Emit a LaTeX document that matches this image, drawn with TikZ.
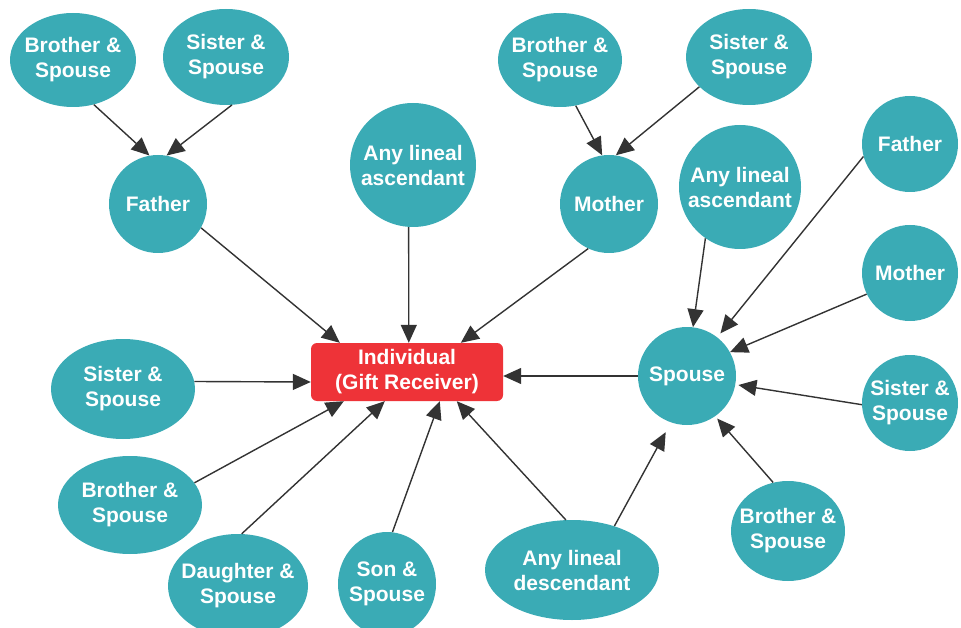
\documentclass[tikz,border=0pt]{standalone}
\usepackage{fontspec}
\setmainfont{Liberation Sans}
\usetikzlibrary{shapes.geometric,arrows.meta}
\definecolor{kinteal}{HTML}{3AABB5}
\definecolor{kinred}{HTML}{EE3338}
\definecolor{kinarrow}{HTML}{333333}
\begin{document}
\begin{tikzpicture}[x=1pt,y=-1pt,
        kin/.style={ellipse, fill=kinteal, text=white, font=\fontsize{21}{25}\selectfont\bfseries,
            align=center, inner xsep=-20pt, inner ysep=-4pt},
        gift/.style={rectangle, rounded corners=6pt, fill=kinred, text=white,
            font=\fontsize{21}{25}\selectfont\bfseries, align=center,
            minimum width=192pt, minimum height=58pt, inner sep=0pt},
        link/.style={-{Triangle[length=18pt,width=16pt]}, draw=kinarrow, line width=1.4pt}]
    \useasboundingbox (0,0) rectangle (961,628);
    % receiver
    \node[gift] (ind) at (407,372) {Individual\\(Gift Receiver)};
    % father's side
    \node[kin, minimum width=126pt, minimum height=94pt] (bsF) at (73,60) {Brother \&\\Spouse};
    \node[kin, minimum width=126pt, minimum height=96pt] (ssF) at (226,57) {Sister \&\\Spouse};
    \node[kin, minimum width=98pt, minimum height=98pt] (fatherL) at (158,204) {Father};
    \node[kin, minimum width=126pt, minimum height=124pt] (ascL) at (413,165) {Any lineal\\ascendant};
    % mother's side
    \node[kin, minimum width=124pt, minimum height=94pt] (bsM) at (560,60) {Brother \&\\Spouse};
    \node[kin, minimum width=126pt, minimum height=96pt] (ssM) at (749,57) {Sister \&\\Spouse};
    \node[kin, minimum width=98pt, minimum height=98pt] (motherL) at (609,204) {Mother};
    % spouse's side
    \node[kin, minimum width=98pt, minimum height=98pt] (spouse) at (687,376) {Spouse};
    \node[kin, minimum width=122pt, minimum height=124pt] (ascR) at (740,187) {Any lineal\\ascendant};
    \node[kin, minimum width=96pt, minimum height=96pt] (fatherR) at (910,144) {Father};
    \node[kin, minimum width=96pt, minimum height=96pt] (motherR) at (910,273) {Mother};
    \node[kin, minimum width=96pt, minimum height=96pt] (ssR) at (910,403) {Sister \&\\Spouse};
    \node[kin, minimum width=114pt, minimum height=100pt] (bsR) at (788,531) {Brother \&\\Spouse};
    % own family
    \node[kin, minimum width=144pt, minimum height=100pt] (ssL) at (123,389) {Sister \&\\Spouse};
    \node[kin, minimum width=144pt, minimum height=98pt] (bsL) at (130,505) {Brother \&\\Spouse};
    \node[kin, minimum width=140pt, minimum height=104pt] (daughter) at (238,586) {Daughter \&\\Spouse};
    \node[kin, minimum width=98pt, minimum height=104pt] (son) at (387,584) {Son \&\\Spouse};
    \node[kin, minimum width=174pt, minimum height=100pt] (desc) at (572,570) {Any lineal\\descendant};
    % arrows
    \draw[link] (bsF.295) -- (fatherL.100);
    \draw[link] (ssF.277) -- (fatherL.80);
    \draw[link] (fatherL.331) -- ([xshift=29pt]ind.north west);
    \draw[link] (ascL.266) -- ([xshift=98pt]ind.north west);
    \draw[link] (motherL.245) -- ([xshift=150pt]ind.north west);
    \draw[link] (bsM.289) -- (motherL.98);
    \draw[link] (ssM.211) -- (motherL.82);
    \draw[link] (ascR.236) -- (spouse.83);
    \draw[link, shorten >=5pt] (fatherR.195) -- (spouse.52);
    \draw[link] (motherR.206) -- (spouse.29);
    \draw[link, shorten >=3pt] (ssR.182) -- (spouse.350);
    \draw[link, shorten >=3pt] (bsR.107) -- (spouse.305);
    \draw[link] (spouse.west) -- ([yshift=-4pt]ind.east);
    \draw[link] (ssL.6) -- ([yshift=-10pt]ind.west);
    \draw[link] (bsL.19) -- ([xshift=33pt]ind.south west);
    \draw[link] (daughter.86) -- ([xshift=74pt]ind.south west);
    \draw[link] (son.84) -- ([xshift=129pt]ind.south west);
    \draw[link] (desc.97) -- ([xshift=146pt]ind.south west);
    \draw[link, shorten >=11pt] (desc.46) -- (spouse.251);
\end{tikzpicture}
\end{document}
